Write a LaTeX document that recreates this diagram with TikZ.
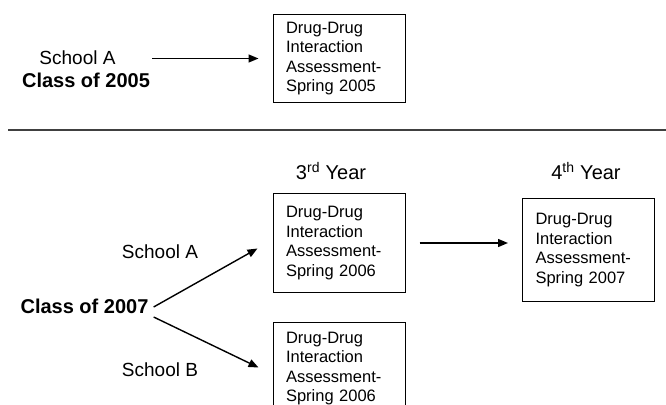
\documentclass[tikz,border=0pt]{standalone}
\usepackage{fontspec}
\setmainfont{Liberation Sans}
\usepackage{tikz}
\usetikzlibrary{arrows.meta,positioning,calc}

\begin{document}
\begin{tikzpicture}[
        x=1pt, y=-1pt,
        assessbox/.style={draw, line width=1pt, anchor=north west, align=left, text width=106pt, inner xsep=13pt, minimum height=99pt, font=\fontsize{16.5}{19.5}\selectfont},
        lbl/.style={inner sep=0pt, font=\fontsize{19}{21}\selectfont},
        boldlbl/.style={inner sep=0pt, font=\fontsize{20}{22}\selectfont\bfseries},
        arr/.style={-{Triangle[length=10pt,width=8pt]}, line width=1.4pt}
    ]
    \useasboundingbox (0,0) rectangle (666,404);
    \clip (0,0) rectangle (666,404);

    \node[lbl] (schoolA1) at (77.5,58) {School A};
    \node[boldlbl] (class05) at (86,80) {Class of 2005};
    \node[assessbox, minimum height=88pt] (box05) at (272.5,14) {Drug-Drug\\ Interaction\\ Assessment-\\ Spring 2005};

    \draw[line width=1.5pt, black!75] (8,130) -- (666,130);

    \node[assessbox] (box06a) at (272.5,193) {Drug-Drug\\ Interaction\\ Assessment-\\ Spring 2006};
    \node[assessbox, minimum height=92pt] (box06b) at (272.5,322) {Drug-Drug\\ Interaction\\ Assessment-\\ Spring 2006};
    \node[assessbox, minimum height=103pt] (box07) at (522,198) {Drug-Drug\\ Interaction\\ Assessment-\\ Spring 2007};
    \node[lbl, font=\fontsize{20}{22}\selectfont] (year3) at (331,171) {3\textsuperscript{rd} Year};
    \node[lbl, font=\fontsize{20}{22}\selectfont] (year4) at (586,171) {4\textsuperscript{th} Year};

    \node[lbl] (schoolA2) at (160,252) {School A};
    \node[lbl] (schoolB) at (160,370) {School B};
    \node[boldlbl] (class07) at (84.5,306) {Class of 2007};

    \draw[arr, shorten <=2pt, shorten >=14pt] (class05.north east |- box05.west) -- (box05.west);
    \draw[arr, shorten <=14pt, shorten >=14pt] (box06a.east) -- (box06a.east -| box07.west);
    \draw[arr] ([xshift=5pt, yshift=-1pt]class07.east) -- ([xshift=-15pt, yshift=-5.5pt]box06a.west);
    \draw[arr] ([xshift=5pt, yshift=-11pt]class07.east) -- ([xshift=-14pt, yshift=1pt]box06b.west);
\end{tikzpicture}
\end{document}
